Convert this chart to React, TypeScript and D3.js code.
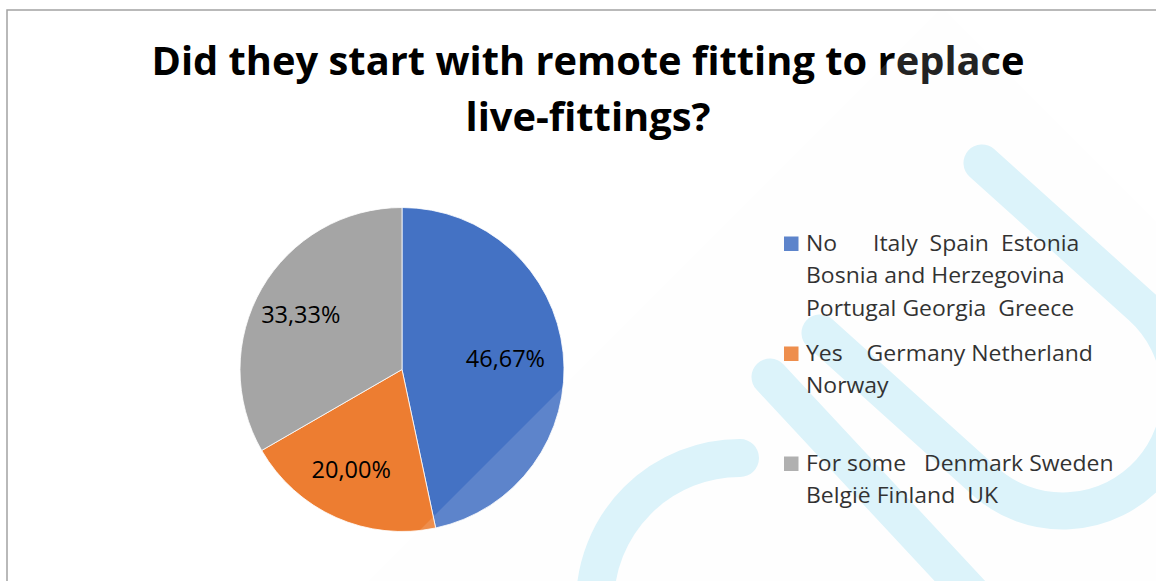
import React from 'react';
import * as d3 from 'd3';

const categories = ['No', 'Yes', 'For some'];
const values = [46.67, 20.0, 33.33];
const valueLabels = ['46,67%', '20,00%', '33,33%'];
const legendLines = [
  ['No      Italy  Spain  Estonia', 'Bosnia and Herzegovina', 'Portugal Georgia  Greece'],
  ['Yes    Germany Netherland', 'Norway'],
  ['For some   Denmark Sweden', 'België Finland  UK'],
];
const titleLines = ['Did they start with remote fitting to replace', 'live-fittings?'];
const colors = ['#4472c4', '#ed7d31', '#a5a5a5'];

const W = 1156;
const H = 581;
const FONT = '"Open Sans", sans-serif';

export default function App() {
  const cx = 402;
  const cy = 369.5;
  const R = 162;
  const labelR = 110;
  const labelDx = -6;

  const data = categories.map((c, i) => ({ c, v: values[i], label: valueLabels[i], color: colors[i] }));
  const pie = d3.pie<any>().sort(null).value((d) => d.v).startAngle(0).endAngle(2 * Math.PI);
  const arcs = pie(data);
  const arc = d3.arc<any>().innerRadius(0).outerRadius(R);
  const labelArc = d3.arc<any>().innerRadius(labelR).outerRadius(labelR);

  const legendY = d3.scaleLinear().domain([0, 1]).range([251, 361]);
  const lineH = 32.3;
  const legendX = 806;
  const legendSx = 1.045;
  const titleX = 588;
  const titleSx = 1.035;

  // decorative stripes
  const th = (42 * Math.PI) / 180;
  const d = [Math.cos(th), Math.sin(th)];
  const n = [Math.sin(th), -Math.cos(th)];
  const PA = [982, 163];
  const PB = [820, 333];
  const r = ((PA[0] - PB[0]) * n[0] + (PA[1] - PB[1]) * n[1]) / 2;
  const M = [PB[0] + r * n[0], PB[1] + r * n[1]];
  const t = (511 - r - M[1]) / d[1];
  const C = [M[0] + t * d[0], M[1] + t * d[1]];
  const tb = [C[0] - r * n[0], C[1] - r * n[1]];
  const ta = [C[0] + r * n[0], C[1] + r * n[1]];
  const uPath = `M${PB[0]},${PB[1]} L${tb[0]},${tb[1]} A${r},${r} 0 0 0 ${ta[0]},${ta[1]} L${PA[0]},${PA[1]}`;
  const dPath = `M770,377 L985,608`;
  const eR = 145;
  const ePath = `M740,458 A${eR},${eR} 0 0 0 ${740 - eR},${458 + eR}`;

  const diamond = `M942,8 L${942 + 900},${908} L942,1808 L${942 - 900},${908} Z`;

  return (
    <svg
      width={W}
      height={H}
      style={{ position: 'absolute', left: 0, top: 0, display: 'block', background: '#fff' }}
    >
      <defs>
        <clipPath id="frame">
          <rect x={7} y={10} width={W} height={H} />
        </clipPath>
      </defs>
      <rect x={0} y={0} width={W} height={H} fill="#fff" />
      <g clipPath="url(#frame)" fill="none" stroke="#d8f3fb" strokeLinecap="round">
        <path d={uPath} strokeWidth={37} />
        <path d={dPath} strokeWidth={37} />
        <path d={ePath} strokeWidth={38} />
      </g>
      <g transform={`translate(${cx},${cy})`}>
        {arcs.map((a, i) => (
          <path key={i} d={arc(a) as string} fill={a.data.color} stroke="#fff" strokeWidth={0.8} />
        ))}
        {arcs.map((a, i) => {
          const [lx, ly] = labelArc.centroid(a);
          return (
            <text
              key={'l' + i}
              x={lx + labelDx}
              y={ly + 8.5}
              textAnchor="middle"
              fontFamily={FONT}
              fontSize={23.5}
              fill="#000"
            >
              {a.data.label}
            </text>
          );
        })}
      </g>
      <g>
        {legendLines.map((lines, i) => (
          <g key={i}>
            <rect x={784} y={legendY(i) - 14.5} width={14.5} height={14.5} fill={colors[i]} />
            <g transform={`translate(${legendX},0) scale(${legendSx},1)`}>
              {lines.map((ln, j) => (
                <text
                  key={j}
                  x={0}
                  y={legendY(i) + j * lineH}
                  fontFamily={FONT}
                  fontSize={22}
                  fill="#111"
                  style={{ whiteSpace: 'pre' }}
                >
                  {ln}
                </text>
              ))}
            </g>
          </g>
        ))}
      </g>
      <g transform={`translate(${titleX},0) scale(${titleSx},1)`}>
        {titleLines.map((ln, i) => (
          <text
            key={i}
            x={0}
            y={75 + i * 56}
            textAnchor="middle"
            fontFamily={FONT}
            fontWeight="bold"
            fontSize={38.5}
            fill="#000"
          >
            {ln}
          </text>
        ))}
      </g>
      <path d={diamond} fill="#f5f5f5" fillOpacity={0.14} clipPath="url(#frame)" />
      <rect x={7} y={10} width={W + 20} height={H + 20} fill="none" stroke="#a3a3a3" strokeWidth={1.5} />
    </svg>
  );
}
